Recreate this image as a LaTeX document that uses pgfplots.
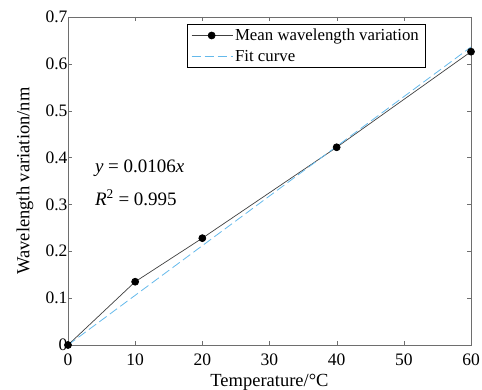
\documentclass[border=0pt]{standalone}
\usepackage{pgfplots}
\pgfplotsset{compat=1.18}
\usepackage{fontspec}
\setmainfont{Liberation Serif}
\definecolor{fitblue}{RGB}{100,185,235}
\definecolor{framegray}{RGB}{110,110,110}
\begin{document}
\begin{tikzpicture}
\begin{axis}[
  name=ax,
  scale only axis,
  width=403pt, height=328pt,
  xmin=0, xmax=60, ymin=0, ymax=0.7,
  xtick={0,10,...,60},
  ytick={0,0.1,...,0.7},
  yticklabels={0,0.1,0.2,0.3,0.4,0.5,0.6,0.7},
  tick align=inside,
  major tick length=4pt,
  axis line style={framegray},
  tick style={framegray},
  /pgf/number format/assume math mode=true,
  ticklabel style={font=\fontsize{17.5}{20}\selectfont},
  xticklabel style={yshift=-5pt},
  yticklabel style={xshift=3pt},
  xlabel={Temperature/°C},
  ylabel={Wavelength variation/nm},
  label style={font=\fontsize{18.5}{21}\selectfont},
  xlabel style={at={(axis description cs:0.5,-0.113)}, anchor=center},
  ylabel style={at={(axis description cs:-0.107,0.5)}, anchor=center},
  legend style={at={(0.886,0.978)}, anchor=north east, draw=black, font=\fontsize{16.8}{19}\selectfont, row sep=5.5pt, inner xsep=4pt, inner ysep=3pt, nodes={inner ysep=1.5pt}},
  legend image code/.code={\draw[mark repeat=2,mark phase=2,#1] plot coordinates {(0pt,0pt) (20pt,0pt) (41pt,0pt)};},
  legend cell align=left,
  clip=false,
]
\addplot[color=black!75, line width=0.7pt, mark=*, mark size=3.5pt, mark options={fill=black, draw=black}] coordinates {(0,0) (10,0.135) (20,0.228) (40,0.422) (60,0.626)};
\addlegendentry{Mean wavelength variation}
\addplot[color=fitblue, dash pattern=on 9pt off 4pt, line width=0.8pt] coordinates {(0,0) (60,0.636)};
\addlegendentry{Fit curve}
\node[anchor=west, font=\fontsize{19}{22}\selectfont] at (axis cs:3.5,0.378) {\textit{y} = 0.0106\textit{x}};
\node[anchor=west, font=\fontsize{19}{22}\selectfont] at (axis cs:3.5,0.314) {\textit{R}\textsuperscript{2} = 0.995};
\end{axis}
\pgfresetboundingbox
\path ([shift={(-68pt,-45pt)}]ax.south west) rectangle ([shift={(11pt,17pt)}]ax.north east);
\end{tikzpicture}
\end{document}
